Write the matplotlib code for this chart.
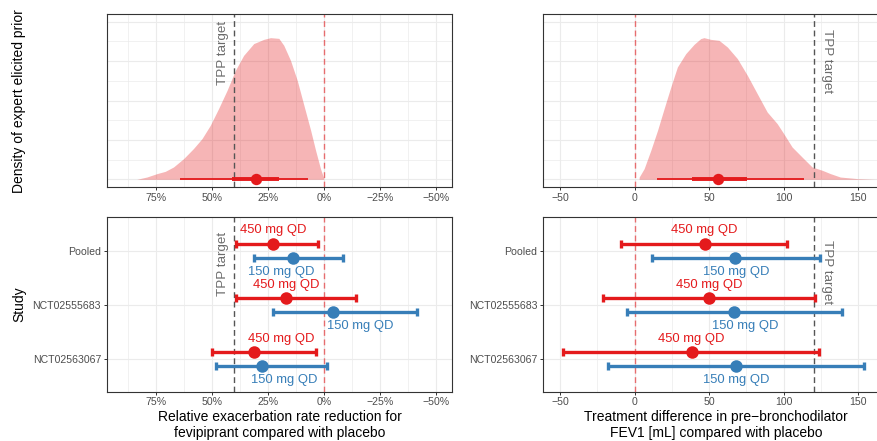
import matplotlib
matplotlib.use("Agg")
import matplotlib.pyplot as plt
import numpy as np
from matplotlib.ticker import FixedLocator, FuncFormatter

plt.rcParams['font.family'] = ['Liberation Sans', 'DejaVu Sans']

# ---------------- data ----------------
studies = ['Pooled', 'NCT02555683', 'NCT02563067']
study_pos = [3, 2, 1]

# Relative exacerbation rate reduction (%)
rr_450_est = [23.0, 17.0, 31.2]
rr_450_low = [2.8, -14.3, 3.7]
rr_450_high = [39.2, 39.2, 50.2]
rr_150_est = [14.0, -4.2, 27.7]
rr_150_low = [-8.4, -41.6, -1.2]
rr_150_high = [31.2, 23.0, 48.1]
rr_450_label_x = [22.9, 17.1, 19.1]
rr_150_label_x = [19.0, -16.3, 17.9]

# FEV1 treatment difference (mL)
fev_450_est = [47.0, 49.9, 38.5]
fev_450_low = [-9.1, -20.9, -47.9]
fev_450_high = [102.2, 121.0, 123.8]
fev_150_est = [67.5, 66.6, 67.9]
fev_150_low = [12.0, -5.1, -18.0]
fev_150_high = [124.0, 139.0, 153.9]
fev_450_label_x = [46.9, 49.9, 37.9]
fev_150_label_x = [68.0, 74.4, 68.0]

# Expert elicited prior densities (scaled so peak = 1)
rr_prior_x = [83.6, 79.1, 74.6, 70.9, 67.2, 62.7, 58.3, 54.5, 50.8, 47.1, 43.3,
              39.6, 35.9, 31.4, 26.9, 23.9, 20.2, 18.0, 15.0, 12.0, 9.0, 6.0,
              3.8, 1.6, 0.1]
rr_prior_d = [0.0, 0.016, 0.04, 0.056, 0.087, 0.146, 0.217, 0.287, 0.381, 0.499,
              0.628, 0.769, 0.875, 0.958, 0.988, 1.0, 0.995, 0.946, 0.84, 0.699,
              0.522, 0.346, 0.205, 0.075, 0.005]
rr_prior_median = 30.2
rr_prior_66 = [20.3, 41.1]
rr_prior_95 = [7.3, 64.1]

fev_prior_x = [3.0, 3.1, 6.4, 10.9, 15.4, 19.8, 24.3, 28.7, 34.3, 39.9, 44.3,
               46.5, 51.0, 56.6, 62.2, 68.9, 75.6, 82.2, 88.9, 95.6, 100.0,
               105.6, 112.3, 119.0, 125.7, 131.3, 137.9, 149.1, 162.5]
fev_prior_d = [0.0, 0.016, 0.075, 0.205, 0.346, 0.499, 0.652, 0.793, 0.887,
               0.953, 0.993, 1.0, 0.988, 0.981, 0.934, 0.852, 0.734, 0.605,
               0.475, 0.393, 0.322, 0.228, 0.157, 0.087, 0.064, 0.04, 0.016,
               0.005, 0.0]
fev_prior_median = 55.9
fev_prior_66 = [38.3, 75.6]
fev_prior_95 = [14.9, 113.9]

rr_tpp = 40
fev_tpp = 120

rr_ticks = [75, 50, 25, 0, -25, -50]
rr_minor = [87.5, 62.5, 37.5, 12.5, -12.5, -37.5]
fev_ticks = [-50, 0, 50, 100, 150]
fev_minor = [-25, 25, 75, 125]

# ---------------- style ----------------
RED = '#E41A1C'
BLUE = '#377EB8'
GRID = '#EBEBEB'
DARK = '#333333'
TICKTXT = '#4D4D4D'
TPPCOL = '#555555'
TPPTXT = '#6B6B6B'

W, H = 878, 441
fig = plt.figure(figsize=(W / 100, H / 100), dpi=100)


def px_axes(x0, x1, ytop, ybot):
    return fig.add_axes([x0 / W, 1 - ybot / H, (x1 - x0) / W, (ybot - ytop) / H])


ax_tl = px_axes(107, 452, 14, 187.3)
ax_tr = px_axes(543.3, 888, 14, 187.3)
ax_bl = px_axes(107, 452, 217.3, 391.7)
ax_br = px_axes(543.3, 888, 217.3, 391.7)


def pct_fmt(v, pos):
    s = f"{abs(int(round(v)))}%"
    return ("\u2212" + s) if v < 0 else s


def num_fmt(v, pos):
    s = f"{abs(int(round(v)))}"
    return ("\u2212" + s) if v < 0 else s


def base_style(ax, xlim, ticks, minor, fmt, ylim):
    ax.set_xlim(*xlim)
    ax.set_ylim(*ylim)
    for sp in ax.spines.values():
        sp.set_color(DARK)
        sp.set_linewidth(0.8)
    ax.xaxis.set_major_locator(FixedLocator(ticks))
    ax.xaxis.set_major_formatter(FuncFormatter(fmt))
    for t in ticks:
        ax.axvline(t, color=GRID, lw=0.8, zorder=0)
    for t in minor:
        ax.axvline(t, color=GRID, lw=0.5, zorder=0)
    ax.tick_params(axis='x', length=2.5, width=0.7, color=DARK, pad=1.6,
                   labelsize=7.6, labelcolor=TICKTXT)
    ax.set_axisbelow(True)


dash = dict(dashes=(4.2, 2.6))

# ---------- top panels (priors) ----------
top_ylim = (-0.0565, 1.167)
for ax, xlim, ticks, minor, fmt, px, pdn, med, i66, i95, tpp in [
        (ax_tl, (96.9, -57.1), rr_ticks, rr_minor, pct_fmt, rr_prior_x, rr_prior_d,
         rr_prior_median, rr_prior_66, rr_prior_95, rr_tpp),
        (ax_tr, (-61.2, 169.9), fev_ticks, fev_minor, num_fmt, fev_prior_x, fev_prior_d,
         fev_prior_median, fev_prior_66, fev_prior_95, fev_tpp)]:
    base_style(ax, xlim, ticks, minor, fmt, top_ylim)
    for k in range(9):
        ax.axhline(k * 0.139, color=GRID, lw=0.8 if k % 2 == 0 else 0.5, zorder=0)
    ax.set_yticks([])
    ax.fill_between(px, 0, pdn, color=RED, alpha=0.32, lw=0, zorder=1)
    ax.axvline(0, color=RED, alpha=0.6, lw=1.0, zorder=2, **dash)
    ax.axvline(tpp, color=TPPCOL, lw=1.0, zorder=2, **dash)
    ax.plot(i95, [0, 0], color=RED, lw=1.3, solid_capstyle='butt', zorder=3)
    ax.plot(i66, [0, 0], color=RED, lw=2.8, solid_capstyle='butt', zorder=3)
    ax.plot([med], [0], 'o', color=RED, ms=8.2, mec='none', zorder=4)

# ---------- bottom panels (study results) ----------
bot_ylim = (0.4, 3.625)
dodge = 0.125
lab_off = 10.0
for ax, xlim, ticks, minor, fmt, tpp, e450, l450, h450, e150, l150, h150, lx450, lx150 in [
        (ax_bl, (96.9, -57.1), rr_ticks, rr_minor, pct_fmt, rr_tpp,
         rr_450_est, rr_450_low, rr_450_high, rr_150_est, rr_150_low, rr_150_high,
         rr_450_label_x, rr_150_label_x),
        (ax_br, (-61.2, 169.9), fev_ticks, fev_minor, num_fmt, fev_tpp,
         fev_450_est, fev_450_low, fev_450_high, fev_150_est, fev_150_low, fev_150_high,
         fev_450_label_x, fev_150_label_x)]:
    base_style(ax, xlim, ticks, minor, fmt, bot_ylim)
    for yp in study_pos:
        ax.axhline(yp, color=GRID, lw=0.8, zorder=0)
    ax.set_yticks(study_pos)
    ax.set_yticklabels(studies)
    ax.tick_params(axis='y', length=2.5, width=0.7, color=DARK, pad=1.8,
                   labelsize=7.6, labelcolor=TICKTXT)
    ax.axvline(0, color=RED, alpha=0.6, lw=1.0, zorder=1, **dash)
    ax.axvline(tpp, color=TPPCOL, lw=1.0, zorder=1, **dash)
    for est, lo, hi, lx, col, sgn, label in [
            (e450, l450, h450, lx450, RED, 1, '450 mg QD'),
            (e150, l150, h150, lx150, BLUE, -1, '150 mg QD')]:
        ys = [p + sgn * dodge for p in study_pos]
        xerr = [np.array(est) - np.array(lo), np.array(hi) - np.array(est)]
        xerr = [np.abs(xerr[0]), np.abs(xerr[1])]
        ax.errorbar(est, ys, xerr=xerr, fmt='o', color=col, ms=9.0, mec='none',
                    elinewidth=2.4, capsize=2.9, capthick=2.4, zorder=3)
        for xl, yy in zip(lx, ys):
            ax.annotate(label, xy=(xl, yy), xytext=(0, sgn * lab_off),
                        textcoords='offset points', ha='center', va='center',
                        fontsize=9.4, color=col, zorder=4)

# ---------- TPP target labels ----------
for ax, tpp, yfrac, dx, rot in [(ax_tl, rr_tpp, 0.775, -8.4, 90),
                                (ax_bl, rr_tpp, 0.732, -8.4, 90),
                                (ax_tr, fev_tpp, 0.729, 10.0, -90),
                                (ax_br, fev_tpp, 0.686, 10.0, -90)]:
    ax.annotate('TPP target', xy=(tpp, yfrac), xycoords=('data', 'axes fraction'),
                xytext=(dx, 0), textcoords='offset points', rotation=rot,
                ha='center', va='center', fontsize=9.6, color=TPPTXT, zorder=5)

# ---------- axis titles ----------
fig.text(19 / W, 1 - 100.6 / H, 'Density of expert elicited prior', rotation=90,
         ha='center', va='center', fontsize=10, color='black')
fig.text(19 / W, 1 - 304.5 / H, 'Study', rotation=90,
         ha='center', va='center', fontsize=10, color='black')
fig.text(279.5 / W, 1 - 425 / H,
         'Relative exacerbation rate reduction for\nfevipiprant compared with placebo',
         ha='center', va='center', fontsize=10, linespacing=1.1)
fig.text(715.8 / W, 1 - 425 / H,
         'Treatment difference in pre\u2212bronchodilator\nFEV1 [mL] compared with placebo',
         ha='center', va='center', fontsize=10, linespacing=1.1)

fig.savefig('out.png', dpi=100)
